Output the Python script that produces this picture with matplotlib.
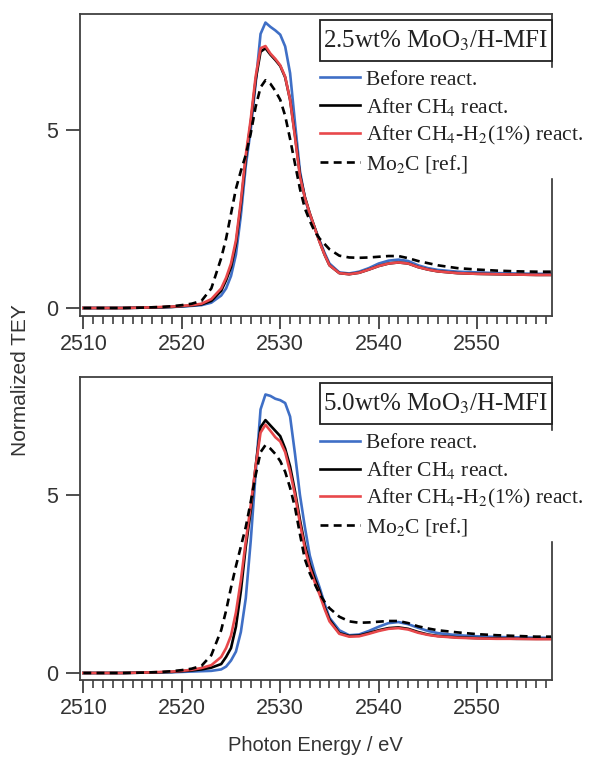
import matplotlib
matplotlib.use('Agg')
import matplotlib.pyplot as plt
from matplotlib.patches import Rectangle
from matplotlib.ticker import MultipleLocator

# photon energy grid (eV)
energy = [2510, 2512, 2514, 2516, 2518, 2519, 2520, 2521, 2522, 2523,
          2524, 2524.5, 2525, 2525.5, 2526, 2526.5, 2527, 2527.5, 2528, 2528.5,
          2529, 2529.5, 2530, 2530.5, 2531, 2531.5, 2532, 2532.5, 2533, 2533.5,
          2534, 2534.5, 2535, 2536, 2537, 2538, 2539, 2540, 2541, 2542,
          2543, 2544, 2545, 2546, 2548, 2550, 2552, 2554, 2556, 2557.5]

# 2.5wt% MoO3/H-MFI
top_before = [0.00, 0.00, 0.00, 0.01, 0.02, 0.03, 0.04, 0.06, 0.08, 0.15,
              0.35, 0.55, 0.90, 1.50, 2.60, 4.00, 5.00, 6.30, 7.70, 8.02,
              7.90, 7.80, 7.68, 7.35, 6.60, 5.20, 3.85, 3.10, 2.60, 2.25,
              1.90, 1.55, 1.25, 1.00, 0.97, 1.02, 1.12, 1.25, 1.33, 1.36,
              1.32, 1.20, 1.12, 1.07, 1.02, 1.00, 0.98, 0.97, 0.96, 0.96]
top_ch4 = [0.00, 0.00, 0.00, 0.01, 0.02, 0.03, 0.05, 0.07, 0.10, 0.20,
           0.48, 0.78, 1.15, 1.80, 2.90, 4.20, 5.20, 6.40, 7.20, 7.30,
           7.12, 6.97, 6.80, 6.48, 5.85, 4.85, 3.75, 3.12, 2.66, 2.26,
           1.86, 1.50, 1.20, 0.98, 0.95, 0.99, 1.08, 1.18, 1.25, 1.28,
           1.25, 1.15, 1.08, 1.03, 0.98, 0.96, 0.95, 0.94, 0.93, 0.93]
top_h2 = [0.00, 0.00, 0.00, 0.01, 0.03, 0.04, 0.06, 0.08, 0.12, 0.25,
          0.55, 0.85, 1.25, 1.90, 3.00, 4.30, 5.30, 6.50, 7.30, 7.36,
          7.15, 7.00, 6.82, 6.50, 5.85, 4.80, 3.70, 3.10, 2.65, 2.25,
          1.85, 1.50, 1.20, 0.98, 0.95, 0.99, 1.08, 1.18, 1.25, 1.28,
          1.25, 1.15, 1.08, 1.03, 0.98, 0.96, 0.95, 0.94, 0.93, 0.93]
top_mo2c = [0.00, 0.00, 0.00, 0.01, 0.03, 0.05, 0.08, 0.12, 0.20, 0.55,
            1.40, 1.95, 2.65, 3.35, 3.85, 4.30, 4.90, 5.65, 6.20, 6.40,
            6.30, 6.10, 5.85, 5.40, 4.75, 4.05, 3.35, 2.80, 2.45, 2.15,
            1.95, 1.80, 1.65, 1.47, 1.42, 1.41, 1.42, 1.44, 1.46, 1.46,
            1.40, 1.32, 1.26, 1.20, 1.12, 1.08, 1.05, 1.03, 1.02, 1.02]

# 5.0wt% MoO3/H-MFI
bot_before = [0.00, 0.00, 0.00, 0.01, 0.02, 0.02, 0.03, 0.04, 0.05, 0.06,
              0.10, 0.18, 0.35, 0.60, 1.15, 2.10, 3.70, 5.60, 7.40, 7.82,
              7.78, 7.70, 7.66, 7.58, 7.20, 6.15, 5.00, 4.10, 3.30, 2.80,
              2.40, 1.95, 1.55, 1.20, 1.06, 1.08, 1.18, 1.30, 1.40, 1.43,
              1.37, 1.27, 1.18, 1.12, 1.06, 1.03, 1.01, 1.00, 0.99, 0.99]
bot_ch4 = [0.00, 0.00, 0.00, 0.01, 0.02, 0.03, 0.05, 0.07, 0.10, 0.15,
           0.25, 0.45, 0.70, 1.30, 2.30, 3.55, 4.55, 5.80, 6.90, 7.10,
           6.95, 6.80, 6.65, 6.30, 5.80, 5.10, 4.30, 3.60, 3.05, 2.65,
           2.30, 1.85, 1.50, 1.12, 1.04, 1.05, 1.12, 1.20, 1.26, 1.28,
           1.24, 1.15, 1.08, 1.04, 1.00, 0.98, 0.97, 0.96, 0.96, 0.96]
bot_h2 = [0.00, 0.00, 0.00, 0.01, 0.03, 0.04, 0.06, 0.09, 0.14, 0.22,
          0.45, 0.70, 1.05, 1.70, 2.60, 3.70, 4.70, 5.80, 6.75, 6.97,
          6.80, 6.62, 6.50, 6.20, 5.65, 5.00, 4.20, 3.50, 2.95, 2.55,
          2.20, 1.80, 1.45, 1.10, 1.02, 1.03, 1.10, 1.18, 1.24, 1.26,
          1.22, 1.13, 1.07, 1.03, 0.99, 0.97, 0.96, 0.96, 0.95, 0.95]
bot_mo2c = [0.00, 0.00, 0.00, 0.01, 0.03, 0.05, 0.08, 0.12, 0.20, 0.50,
            1.20, 1.75, 2.40, 3.00, 3.55, 4.10, 4.80, 5.55, 6.20, 6.40,
            6.30, 6.15, 5.95, 5.65, 5.20, 4.65, 3.90, 3.20, 2.80, 2.50,
            2.22, 2.00, 1.82, 1.58, 1.45, 1.41, 1.42, 1.44, 1.46, 1.46,
            1.40, 1.31, 1.25, 1.20, 1.14, 1.09, 1.06, 1.04, 1.02, 1.02]

panel_titles = ['2.5wt% MoO$_3$/H-MFI', '5.0wt% MoO$_3$/H-MFI']
labels = ['Before react.', 'After CH$_4$ react.',
          'After CH$_4$-H$_2$(1%) react.', 'Mo$_2$C [ref.]']
colors = ['#3f6fc6', 'black', '#e8484b', 'black']
styles = ['-', '-', '-', '--']

plt.rcParams['mathtext.fontset'] = 'stix'
sans = ['Liberation Sans', 'DejaVu Sans']
serif = ['Liberation Serif', 'DejaVu Serif']
axcol = '#404040'

fig = plt.figure(figsize=(5.92, 7.58), dpi=100)
ax1 = fig.add_axes([0.1351, 0.5831, 0.7973, 0.3984])
ax2 = fig.add_axes([0.1351, 0.1029, 0.7973, 0.3997])

panels = [(ax1, [top_before, top_ch4, top_h2, top_mo2c], (-0.225, 8.26)),
          (ax2, [bot_before, bot_ch4, bot_h2, bot_mo2c], (-0.197, 8.31))]

for i, (ax, series, ylim) in enumerate(panels):
    for y, c, ls, lab in zip(series, colors, styles, labels):
        if ls == '--':
            ax.plot(energy, y, color=c, ls=ls, lw=1.9, dashes=(3, 2), label=lab)
        else:
            ax.plot(energy, y, color=c, ls=ls, lw=1.9, label=lab)
    ax.set_xlim(2509.66, 2557.6)
    ax.set_ylim(*ylim)
    ax.xaxis.set_major_locator(MultipleLocator(10))
    ax.xaxis.set_minor_locator(MultipleLocator(1))
    ax.set_yticks([0, 5])
    ax.tick_params(axis='x', which='major', direction='out', length=9,
                   width=1.3, color=axcol, labelsize=15.5, pad=4)
    ax.tick_params(axis='x', which='minor', direction='out', length=5.5,
                   width=1.2, color=axcol)
    ax.tick_params(axis='y', which='major', direction='out', length=10,
                   width=1.3, color=axcol, labelsize=15.5, pad=6)
    for lab in ax.get_xticklabels() + ax.get_yticklabels():
        lab.set_family(sans)
        lab.set_color('#333333')
    for sp in ax.spines.values():
        sp.set_color(axcol)
        sp.set_linewidth(1.3)

    # boxed sample name
    ax.add_patch(Rectangle((0.508, 0.844), 0.492, 0.136, transform=ax.transAxes,
                           fc='white', ec='#222222', lw=1.3, zorder=6,
                           clip_on=False))
    ax.text(0.754, 0.911, panel_titles[i], transform=ax.transAxes,
            ha='center', va='center', fontsize=18, family=serif,
            color='#222222', zorder=7)
    leg = ax.legend(loc='upper left', bbox_to_anchor=(0.505, 0.822),
                    prop={'family': serif, 'size': 15.5}, handlelength=1.85,
                    handletextpad=0.25, labelspacing=0.28, borderpad=0.1,
                    borderaxespad=0, frameon=True, fancybox=False,
                    framealpha=1, facecolor='white', edgecolor='white')
    leg.set_zorder(5)
    for t in leg.get_texts():
        t.set_color('#222222')

fig.text(0.034, 0.499, 'Normalized TEY', rotation=90, ha='center', va='center',
         fontsize=15, family=sans, color='#333333')
fig.text(0.532, 0.017, 'Photon Energy / eV', ha='center', va='center',
         fontsize=14.5, family=sans, color='#333333')

fig.savefig('out.png', dpi=100)
